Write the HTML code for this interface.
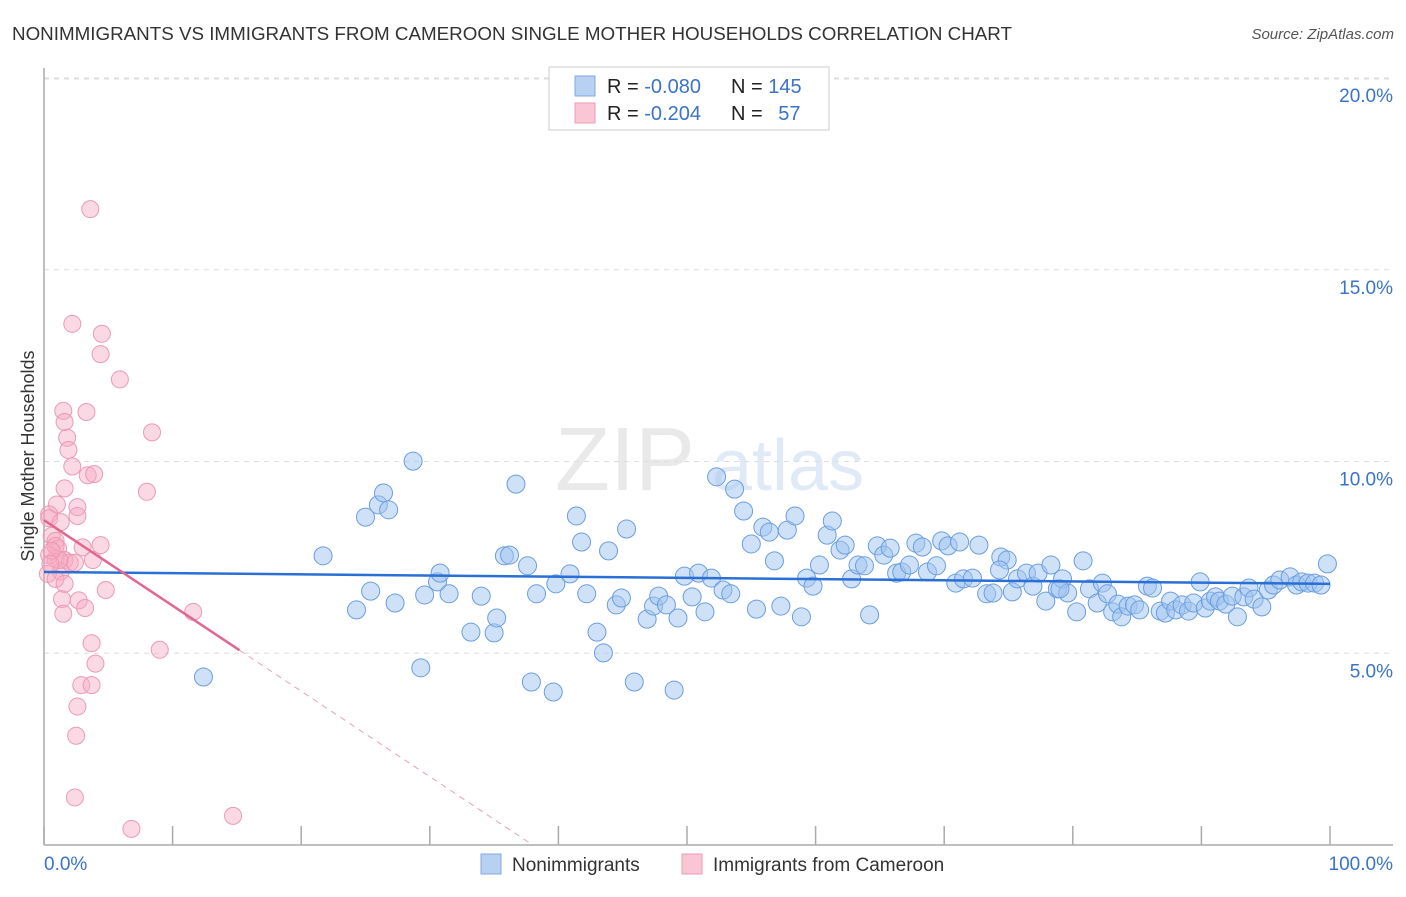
<!DOCTYPE html>
<html><head><meta charset="utf-8"><style>
body{margin:0;background:#fff;font-family:"Liberation Sans",sans-serif;}
svg text{font-family:"Liberation Sans",sans-serif;}
</style></head><body>
<svg id="chart" width="1406" height="892" xmlns="http://www.w3.org/2000/svg">
<text x="12" y="40" font-size="18.8" fill="#333">NONIMMIGRANTS VS IMMIGRANTS FROM CAMEROON SINGLE MOTHER HOUSEHOLDS CORRELATION CHART</text>
<text x="1394" y="39" font-size="15" fill="#555" text-anchor="end" font-style="italic">Source: ZipAtlas.com</text>
<text transform="translate(34,456) rotate(-90)" font-size="18" fill="#333" text-anchor="middle">Single Mother Households</text>
<g opacity="0.18">
<text x="555" y="490" font-size="90" font-family="Liberation Serif" fill="#888">ZIP</text>
<text x="712" y="490" font-size="72" fill="#5b8fd6">atlas</text>
</g>
<g id="grid"></g><g id="axes"></g><g id="pink"></g><g id="blue"></g><g id="trends"></g>
<g>
<rect x="549" y="67" width="280" height="63" fill="#fff" stroke="#ccc"/>
<rect x="575" y="76" width="20" height="20" fill="#b8d1f3" stroke="#7fa9e3"/>
<rect x="575" y="103" width="20" height="20" fill="#f9c6d5" stroke="#ee99b2"/>
<text x="607" y="93" font-size="20" fill="#222">R = <tspan fill="#3a73cc">-0.080</tspan></text>
<text x="731" y="93" font-size="20" fill="#222">N = <tspan fill="#3a73cc">145</tspan></text>
<text x="607" y="120" font-size="20" fill="#222">R = <tspan fill="#3a73cc">-0.204</tspan></text>
<text x="731" y="120" font-size="20" fill="#222">N = <tspan fill="#3a73cc" dx="10">57</tspan></text>
</g>
<g>
<rect x="481" y="854" width="20" height="20" fill="#b8d1f3" stroke="#7fa9e3"/>
<text x="512" y="871" font-size="19" fill="#333">Nonimmigrants</text>
<rect x="682" y="854" width="20" height="20" fill="#f9c6d5" stroke="#ee99b2"/>
<text x="713" y="871" font-size="19" fill="#333">Immigrants from Cameroon</text>
</g>
</svg>
<script>
const yTicks=[5,10,15,20];
const yTickLabels=["5.0%","10.0%","15.0%","20.0%"];
const xTickLabels=["0.0%","100.0%"];
const blueX=[12.4,21.7,24.3,25.0,25.4,26.0,26.4,26.8,27.3,28.7,29.3,29.6,30.6,30.8,31.5,33.2,34.0,35.0,35.2,35.8,36.2,36.7,37.6,37.9,38.3,39.6,39.8,40.9,41.4,41.8,42.2,43.0,43.5,43.9,44.5,44.9,45.3,45.9,46.9,47.4,47.8,48.4,49.0,49.3,49.8,50.4,50.9,51.4,51.9,52.3,52.8,53.4,53.7,54.4,55.0,55.4,55.9,56.4,56.8,57.3,57.8,58.4,58.9,59.3,59.8,60.3,60.9,61.3,61.9,62.3,62.8,63.3,63.8,64.2,64.8,65.3,65.8,66.3,66.7,67.3,67.8,68.3,68.7,69.4,69.8,70.3,70.9,71.2,71.5,72.2,72.7,73.3,73.8,74.4,74.9,75.3,75.7,76.4,76.9,77.3,77.9,78.3,78.8,79.2,79.6,80.3,80.8,81.3,81.9,82.3,82.7,83.1,83.5,83.8,84.3,84.8,85.2,85.8,86.2,86.8,87.2,87.6,88.0,88.5,89.0,89.4,89.9,90.3,90.7,91.1,91.4,91.9,92.4,92.8,93.3,93.7,94.1,94.7,95.2,95.6,96.1,96.9,97.4,97.8,98.3,98.8,99.3,99.8,79.0,74.3];
const blueY=[4.38,7.54,6.13,8.55,6.62,8.87,9.18,8.74,6.31,10.01,4.62,6.52,6.86,7.09,6.55,5.55,6.49,5.53,5.92,7.54,7.56,9.41,7.28,4.25,6.55,3.99,6.81,7.07,8.58,7.90,6.55,5.55,5.01,7.67,6.26,6.44,8.24,4.25,5.89,6.23,6.49,6.26,4.04,5.92,7.01,6.47,7.09,6.08,6.96,9.60,6.65,6.55,9.28,8.71,7.85,6.15,8.29,8.16,7.41,6.23,8.21,8.58,5.95,6.96,6.75,7.30,8.08,8.45,7.69,7.82,6.94,7.30,7.28,6.00,7.80,7.56,7.74,7.09,7.12,7.30,7.87,7.77,7.12,7.28,7.93,7.80,6.83,7.90,6.94,6.96,7.82,6.55,6.57,7.51,7.43,6.60,6.94,7.09,6.75,7.09,6.36,7.30,6.68,6.94,6.57,6.08,7.41,6.68,6.31,6.83,6.55,6.08,6.28,5.95,6.23,6.26,6.13,6.75,6.70,6.10,6.05,6.36,6.13,6.26,6.10,6.31,6.86,6.18,6.36,6.47,6.36,6.28,6.49,5.95,6.47,6.70,6.41,6.21,6.65,6.78,6.91,6.99,6.78,6.86,6.83,6.83,6.78,7.33,6.68,7.17];
const pinkX=[3.6,2.2,4.5,4.4,5.9,1.5,1.6,3.3,1.8,1.9,8.4,2.2,3.4,3.9,1.6,1.0,2.6,0.4,2.6,0.4,1.3,0.6,0.9,1.1,3.0,4.4,8.0,0.4,0.9,1.6,2.0,3.8,1.3,0.3,0.9,2.4,1.2,4.8,1.4,2.7,3.2,1.5,3.7,4.0,2.9,3.7,2.6,2.5,2.4,11.6,9.0,6.8,14.7,0.9,0.6,0.5,1.6];
const pinkY=[16.58,13.59,13.33,12.80,12.14,11.32,11.03,11.29,10.62,10.30,10.76,9.87,9.64,9.67,9.30,8.88,8.81,8.62,8.58,8.52,8.42,8.06,7.93,7.73,7.76,7.82,9.21,7.56,7.46,7.43,7.36,7.43,7.13,7.07,6.94,7.36,7.43,6.65,6.41,6.38,6.18,6.03,5.26,4.73,4.17,4.17,3.61,2.85,1.24,6.08,5.09,0.42,0.76,7.80,7.67,7.33,6.81];
const blueTrend=[7.12,6.81];
const pinkTrend=[8.47,5.08,0];
const pinkTrendX=[0,15.2,38.0];
const NS="http://www.w3.org/2000/svg";
const X=v=>44+v*12.86, Y=v=>845-v*38.35;
function mk(tag,attrs,parent){const e=document.createElementNS(NS,tag);for(const k in attrs)e.setAttribute(k,attrs[k]);document.getElementById(parent).appendChild(e);return e;}
yTicks.forEach((t,i)=>{
 const g=mk('line',{x1:44,x2:1393,y1:Y(t),y2:Y(t),stroke:'#ddd','stroke-dasharray':'5,5'},'grid');
 
 
 const l=mk('text',{x:1393,y:Y(t)+24,'font-size':19,fill:'#3a73cc','text-anchor':'end'},'grid');
 l.textContent=yTickLabels[i];
 
 
});
const topGrid=mk('line',{x1:44,x2:1393,y1:79,y2:79,stroke:'#ddd','stroke-dasharray':'5,5'},'grid');


const ya=mk('line',{x1:44,x2:44,y1:68,y2:845,stroke:'#aaa','stroke-width':1.5},'axes');


const xa=mk('line',{x1:44,x2:1393,y1:845,y2:845,stroke:'#aaa','stroke-width':1.5},'axes');


for(let i=0;i<=10;i++){
 const t=mk('line',{x1:X(i*10),x2:X(i*10),y1:826,y2:845,stroke:'#aaa','stroke-width':1.5},'axes');
 
 
}
[[0,'start',44],[100,'end',1393]].forEach((d,i)=>{
 const l=mk('text',{x:d[2],y:870,'font-size':19,fill:'#3a73cc','text-anchor':d[1]},'axes');
 l.textContent=xTickLabels[i];
 
 
});
pinkX.forEach((x,i)=>{
 const c=mk('circle',{cx:X(x),cy:Y(pinkY[i]),r:8.5,fill:'rgba(246,170,195,0.45)',stroke:'#ec9ab3','stroke-width':1},'pink');
 
 
});
blueX.forEach((x,i)=>{
 const c=mk('circle',{cx:X(x),cy:Y(blueY[i]),r:9,fill:'rgba(160,196,240,0.5)',stroke:'#6a9ee0','stroke-width':1},'blue');
 
 
});
const bt=mk('line',{x1:X(0),y1:Y(blueTrend[0]),x2:X(100),y2:Y(blueTrend[1]),stroke:'#2a6fd6','stroke-width':2.5},'trends');


const pt=mk('line',{x1:X(pinkTrendX[0]),y1:Y(pinkTrend[0]),x2:X(pinkTrendX[1]),y2:Y(pinkTrend[1]),stroke:'#e2668e','stroke-width':2.5},'trends');


const pd=mk('line',{x1:X(pinkTrendX[1]),y1:Y(pinkTrend[1]),x2:X(pinkTrendX[2]),y2:Y(pinkTrend[2]),stroke:'#e8a0b6','stroke-width':1,'stroke-dasharray':'6,5'},'trends');


</script>
</body></html>
